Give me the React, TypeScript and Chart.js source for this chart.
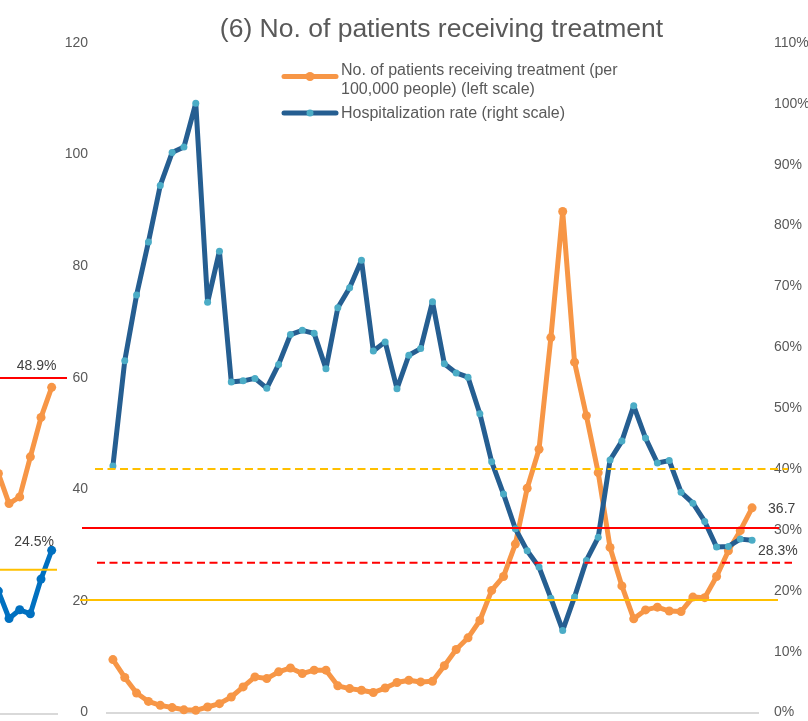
import React, { useEffect, useRef } from "react";
import { Chart, registerables } from "chart.js";
Chart.register(...registerables);

const FONT = "'Liberation Sans', Arial, sans-serif";

// ---------- data ----------
const titleText = "(6) No. of patients receiving treatment";
const legendPatients = ["No. of patients receiving treatment (per", "100,000 people) (left scale)"];
const legendRate = ["Hospitalization rate (right scale)"];

const patients = [
  9.5, 6.3, 3.5, 2.0, 1.3, 0.9, 0.5, 0.4, 1.0, 1.6,
  2.8, 4.6, 6.4, 6.1, 7.3, 8.0, 7.0, 7.6, 7.6, 4.8,
  4.3, 4.0, 3.6, 4.4, 5.4, 5.8, 5.5, 5.6, 8.4, 11.3,
  13.4, 16.5, 21.9, 24.4, 30.2, 40.2, 47.2, 67.2, 89.8, 62.8,
  53.2, 43.0, 29.6, 22.7, 16.8, 18.4, 18.9, 18.2, 18.1, 20.7,
  20.6, 24.4, 29.0, 32.6, 36.7,
];
const hospitalizationRate = [
  40.5, 57.8, 68.6, 77.3, 86.6, 92.0, 92.9, 100.1, 67.4, 75.8,
  54.3, 54.5, 54.9, 53.3, 57.2, 62.1, 62.8, 62.3, 56.5, 66.5,
  69.8, 74.3, 59.4, 60.9, 53.2, 58.7, 59.8, 67.5, 57.3, 55.8,
  55.1, 49.1, 41.2, 35.9, 30.2, 26.6, 23.9, 18.8, 13.5, 19.0,
  25.0, 28.8, 41.5, 44.6, 50.4, 45.1, 41.0, 41.4, 36.2, 34.4,
  31.4, 27.2, 27.3, 28.5, 28.3,
];
const weeks = patients.map((_, i) => String(i + 1));
const patientEndLabel = "36.7";
const rateEndLabel = "28.3%";

const leftTicks = [0, 20, 40, 60, 80, 100, 120];
const rightTicks = [0, 10, 20, 30, 40, 50, 60, 70, 80, 90, 100, 110];

const patientThresholds = [20.2, 33.1]; // left scale
const rateThresholds = [24.6, 40]; // right scale (%)

// neighbouring chart fragment (left edge)
const prevIndex = [0, 1, 2, 3, 4, 5, 6];
const prevOrange = [40, 36.0, 31.5, 32.5, 38.5, 44.4, 48.9];
const prevBlue = [20, 18.4, 14.3, 15.6, 15.0, 20.2, 24.5];
const prevThresholds = [21.6, 50.3];
const prevOrangeLabel = "48.9%";
const prevBlueLabel = "24.5%";

// ---------- styles ----------
const ORANGE = "#F79646";
const BLUE = "#255E91";
const CYAN = "#4BACC6";
const PREV_BLUE = "#0070C0";
const RED = "#FF0000";
const YELLOW = "#FFC000";
const GRAY_TEXT = "#595959";
const LABEL_TEXT = "#404040";

const patientLineStyles = [
  { color: YELLOW, dash: [] as number[], l: -27, r: 20 },
  { color: RED, dash: [] as number[], l: -25, r: 21 },
];
const rateLineStyles = [
  { color: RED, dash: [8, 4.5], l: -10, r: 34 },
  { color: YELLOW, dash: [8, 4.5], l: -12, r: 30 },
];

function hLine(ctx: CanvasRenderingContext2D, x0: number, x1: number, y: number, color: string, dash: number[]) {
  ctx.save();
  ctx.strokeStyle = color;
  ctx.lineWidth = 2;
  ctx.setLineDash(dash);
  ctx.beginPath();
  ctx.moveTo(x0, y);
  ctx.lineTo(x1, y);
  ctx.stroke();
  ctx.restore();
}

const mainOverlay = {
  id: "mainOverlay",
  afterDatasetsDraw(chart: any) {
    const ctx: CanvasRenderingContext2D = chart.ctx;
    const area = chart.chartArea;
    const y = chart.scales.y;
    const y1 = chart.scales.y1;
    patientThresholds.forEach((v, i) => {
      const s = patientLineStyles[i];
      hLine(ctx, area.left + s.l, area.right + s.r, y.getPixelForValue(v), s.color, s.dash);
    });
    rateThresholds.forEach((v, i) => {
      const s = rateLineStyles[i];
      hLine(ctx, area.left + s.l, area.right + s.r, y1.getPixelForValue(v), s.color, s.dash);
    });
    const m0 = chart.getDatasetMeta(0).data;
    const m1 = chart.getDatasetMeta(1).data;
    const p0 = m0[m0.length - 1];
    const p1 = m1[m1.length - 1];
    ctx.save();
    ctx.font = `14px ${FONT}`;
    ctx.fillStyle = LABEL_TEXT;
    ctx.textAlign = "left";
    ctx.textBaseline = "alphabetic";
    ctx.fillText(patientEndLabel, p0.x + 16, p0.y + 5.2);
    ctx.fillText(rateEndLabel, p1.x + 6, p1.y + 14.6);
    ctx.restore();
  },
  afterDraw(chart: any) {
    const ctx: CanvasRenderingContext2D = chart.ctx;
    ctx.save();
    ctx.font = `26.5px ${FONT}`;
    ctx.fillStyle = GRAY_TEXT;
    ctx.textAlign = "center";
    ctx.textBaseline = "alphabetic";
    ctx.fillText(titleText, 441.5, 37.3);
    const items = [
      { lines: legendPatients, color: ORANGE, point: ORANGE, r: 4.5, y: 76.5, base: 75 },
      { lines: legendRate, color: BLUE, point: CYAN, r: 3.5, y: 113, base: 118.3 },
    ];
    items.forEach((it) => {
      ctx.strokeStyle = it.color;
      ctx.lineWidth = 5;
      ctx.lineCap = "round";
      ctx.beginPath();
      ctx.moveTo(284, it.y);
      ctx.lineTo(336, it.y);
      ctx.stroke();
      ctx.fillStyle = it.point;
      ctx.beginPath();
      ctx.arc(310, it.y, it.r, 0, Math.PI * 2);
      ctx.fill();
      ctx.font = `16px ${FONT}`;
      ctx.fillStyle = GRAY_TEXT;
      ctx.textAlign = "left";
      it.lines.forEach((t, k) => ctx.fillText(t, 341, it.base + k * 19));
    });
    ctx.restore();
  },
};

const prevOverlay = {
  id: "prevOverlay",
  afterDatasetsDraw(chart: any) {
    const ctx: CanvasRenderingContext2D = chart.ctx;
    const area = chart.chartArea;
    const y = chart.scales.y;
    hLine(ctx, area.left, area.right, y.getPixelForValue(prevThresholds[0]), YELLOW, []);
    hLine(ctx, area.left, area.right + 10, y.getPixelForValue(prevThresholds[1]), RED, []);
    const m0 = chart.getDatasetMeta(0).data;
    const m1 = chart.getDatasetMeta(1).data;
    const p0 = m0[m0.length - 1];
    const p1 = m1[m1.length - 1];
    ctx.save();
    ctx.font = `14px ${FONT}`;
    ctx.fillStyle = LABEL_TEXT;
    ctx.textAlign = "right";
    ctx.textBaseline = "alphabetic";
    ctx.fillText(prevOrangeLabel, p0.x + 4.7, p0.y - 17);
    ctx.fillText(prevBlueLabel, p1.x + 2.3, p1.y - 4.3);
    ctx.restore();
  },
};

const lineCommon = {
  borderWidth: 5,
  borderJoinStyle: "round",
  borderCapStyle: "round",
  pointBorderWidth: 0,
  tension: 0,
  clip: false,
};

export default function App() {
  const mainRef = useRef<HTMLCanvasElement>(null);
  const prevRef = useRef<HTMLCanvasElement>(null);

  useEffect(() => {
    const tickFont = { family: FONT, size: 14 };
    const main = new Chart(mainRef.current!, {
      type: "line",
      data: {
        labels: weeks,
        datasets: [
          {
            ...lineCommon,
            label: legendPatients.join(" "),
            data: patients,
            yAxisID: "y",
            borderColor: ORANGE,
            backgroundColor: ORANGE,
            pointRadius: 4.5,
            pointBackgroundColor: ORANGE,
            order: 1,
          } as any,
          {
            ...lineCommon,
            label: legendRate[0],
            data: hospitalizationRate,
            yAxisID: "y1",
            borderColor: BLUE,
            backgroundColor: CYAN,
            pointRadius: 3.5,
            pointBackgroundColor: CYAN,
            order: 0,
          } as any,
        ],
      },
      options: {
        animation: false,
        responsive: false,
        devicePixelRatio: 1,
        layout: { padding: { top: 43, bottom: 26, left: 0, right: 0 } },
        plugins: { legend: { display: false }, tooltip: { enabled: false }, title: { display: false } },
        scales: {
          x: {
            type: "category",
            offset: true,
            grid: { display: false, drawTicks: false },
            ticks: { display: false },
            border: { display: true, color: "#D9D9D9", width: 2 },
            afterFit: (s: any) => { s.height = 0; },
          },
          y: {
            position: "left",
            min: leftTicks[0],
            max: leftTicks[leftTicks.length - 1],
            afterBuildTicks: (s: any) => { s.ticks = leftTicks.map((v) => ({ value: v })); },
            ticks: { color: GRAY_TEXT, font: tickFont, padding: 19 },
            grid: { display: false, drawTicks: false },
            border: { display: false },
            afterFit: (s: any) => { s.width = 107; },
          },
          y1: {
            position: "right",
            min: rightTicks[0],
            max: rightTicks[rightTicks.length - 1],
            afterBuildTicks: (s: any) => { s.ticks = rightTicks.map((v) => ({ value: v })); },
            ticks: { color: GRAY_TEXT, font: tickFont, padding: 16, callback: (v: any) => `${v}%` },
            grid: { display: false, drawTicks: false },
            border: { display: false },
            afterFit: (s: any) => { s.width = 50; },
          },
        },
      } as any,
      plugins: [mainOverlay],
    });

    const prev = new Chart(prevRef.current!, {
      type: "line",
      data: {
        datasets: [
          {
            ...lineCommon,
            data: prevIndex.map((x, i) => ({ x, y: prevOrange[i] })),
            borderColor: ORANGE,
            backgroundColor: ORANGE,
            pointRadius: 4.5,
            pointBackgroundColor: ORANGE,
          } as any,
          {
            ...lineCommon,
            data: prevIndex.map((x, i) => ({ x, y: prevBlue[i] })),
            borderColor: PREV_BLUE,
            backgroundColor: PREV_BLUE,
            pointRadius: 4.5,
            pointBackgroundColor: PREV_BLUE,
          } as any,
        ],
      },
      options: {
        animation: false,
        responsive: false,
        devicePixelRatio: 1,
        layout: { padding: { top: 46, bottom: 26, left: 0, right: 10 } },
        plugins: { legend: { display: false }, tooltip: { enabled: false } },
        scales: {
          x: {
            type: "linear",
            min: -11.85,
            max: 6.5,
            grid: { display: false, drawTicks: false },
            ticks: { display: false },
            border: { display: true, color: "#D9D9D9", width: 2 },
            afterFit: (s: any) => { s.height = 0; },
          },
          y: { min: 0, max: 100, display: false },
        },
      } as any,
      plugins: [prevOverlay],
    });

    return () => {
      main.destroy();
      prev.destroy();
    };
  }, []);

  return (
    <div style={{ position: "fixed", left: 0, top: 0, width: 808, height: 721, overflow: "hidden", background: "#fff" }}>
      <canvas ref={prevRef} width={210} height={740} style={{ position: "absolute", left: -143, top: 0, width: 210, height: 740 }} />
      <canvas ref={mainRef} width={808} height={740} style={{ position: "absolute", left: 0, top: 0, width: 808, height: 740 }} />
    </div>
  );
}
